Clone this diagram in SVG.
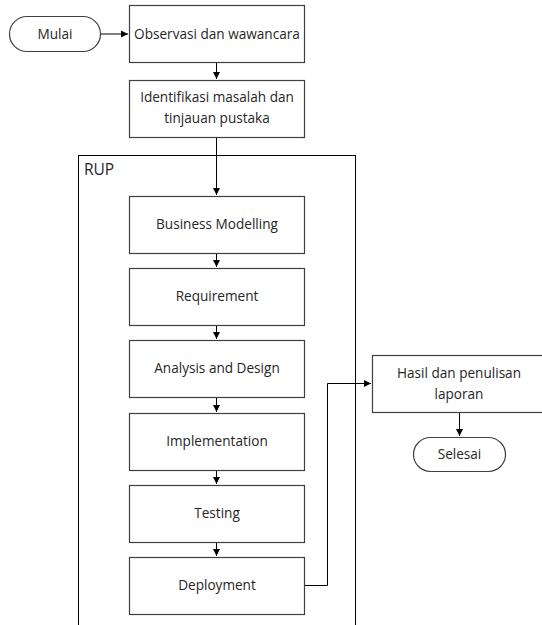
<svg xmlns="http://www.w3.org/2000/svg" width="542" height="625" viewBox="0 0 542 625">
<defs>
<marker id="ah" markerWidth="8" markerHeight="8" refX="7" refY="4" orient="auto" markerUnits="userSpaceOnUse">
<path d="M0,0.5 L7,4 L0,7.5 Z" fill="#000"/>
</marker>
<style>
.box{fill:#fff;stroke:#404040;stroke-width:1.2}
.cont{fill:none;stroke:#000;stroke-width:1}
.t{font-family:"Open Sans","Noto Sans",sans-serif;font-size:13.6px;fill:#262626;text-anchor:middle}
.tl{font-family:"Open Sans","Noto Sans",sans-serif;font-size:15.5px;fill:#262626}
.c{fill:none;stroke:#000;stroke-width:1}
</style>
</defs>
<rect width="542" height="625" fill="#fff"/>
<g id="rup">
<rect class="cont" x="78.5" y="155.5" width="277" height="480"/>
<text class="tl" x="84" y="175">RUP</text>
</g>
<g id="connectors">
<path class="c" d="M100,34 H128" marker-end="url(#ah)"/>
<path class="c" d="M216.5,63 V79" marker-end="url(#ah)"/>
<path class="c" d="M216.5,138 V195" marker-end="url(#ah)"/>
<path class="c" d="M216.5,254 V267" marker-end="url(#ah)"/>
<path class="c" d="M216.5,326 V339" marker-end="url(#ah)"/>
<path class="c" d="M216.5,398 V412" marker-end="url(#ah)"/>
<path class="c" d="M216.5,471 V484" marker-end="url(#ah)"/>
<path class="c" d="M216.5,543 V556" marker-end="url(#ah)"/>
<path class="c" d="M304,585.5 H327.5 V383.5 H371" marker-end="url(#ah)"/>
<path class="c" d="M459.5,412 V436" marker-end="url(#ah)"/>
</g>
<g id="mulai">
<rect class="box" x="9.5" y="16.5" width="91" height="35" rx="17.5"/>
<text class="t" x="55" y="39">Mulai</text>
</g>
<g id="observasi">
<rect class="box" x="129.5" y="5.5" width="175" height="57"/>
<text class="t" x="217" y="39">Observasi dan wawancara</text>
</g>
<g id="identifikasi">
<rect class="box" x="129.5" y="80.5" width="175" height="57"/>
<text class="t" x="217" y="102">Identifikasi masalah dan</text>
<text class="t" x="217" y="123">tinjauan pustaka</text>
</g>
<g id="business">
<rect class="box" x="129.5" y="196.5" width="175" height="57"/>
<text class="t" x="217" y="229">Business Modelling</text>
</g>
<g id="requirement">
<rect class="box" x="129.5" y="268.5" width="175" height="57"/>
<text class="t" x="217" y="301">Requirement</text>
</g>
<g id="analysis">
<rect class="box" x="129.5" y="340.5" width="175" height="57"/>
<text class="t" x="217" y="373">Analysis and Design</text>
</g>
<g id="implementation">
<rect class="box" x="129.5" y="413.5" width="175" height="57"/>
<text class="t" x="217" y="446">Implementation</text>
</g>
<g id="testing">
<rect class="box" x="129.5" y="485.5" width="175" height="57"/>
<text class="t" x="217" y="518">Testing</text>
</g>
<g id="deployment">
<rect class="box" x="129.5" y="557.5" width="175" height="57"/>
<text class="t" x="217" y="590">Deployment</text>
</g>
<g id="hasil">
<rect class="box" x="372.5" y="355.5" width="175" height="57"/>
<text class="t" x="459" y="378">Hasil dan penulisan</text>
<text class="t" x="459" y="399">laporan</text>
</g>
<g id="selesai">
<rect class="box" x="413.5" y="437.5" width="92" height="34" rx="17"/>
<text class="t" x="459.5" y="459">Selesai</text>
</g>
</svg>
